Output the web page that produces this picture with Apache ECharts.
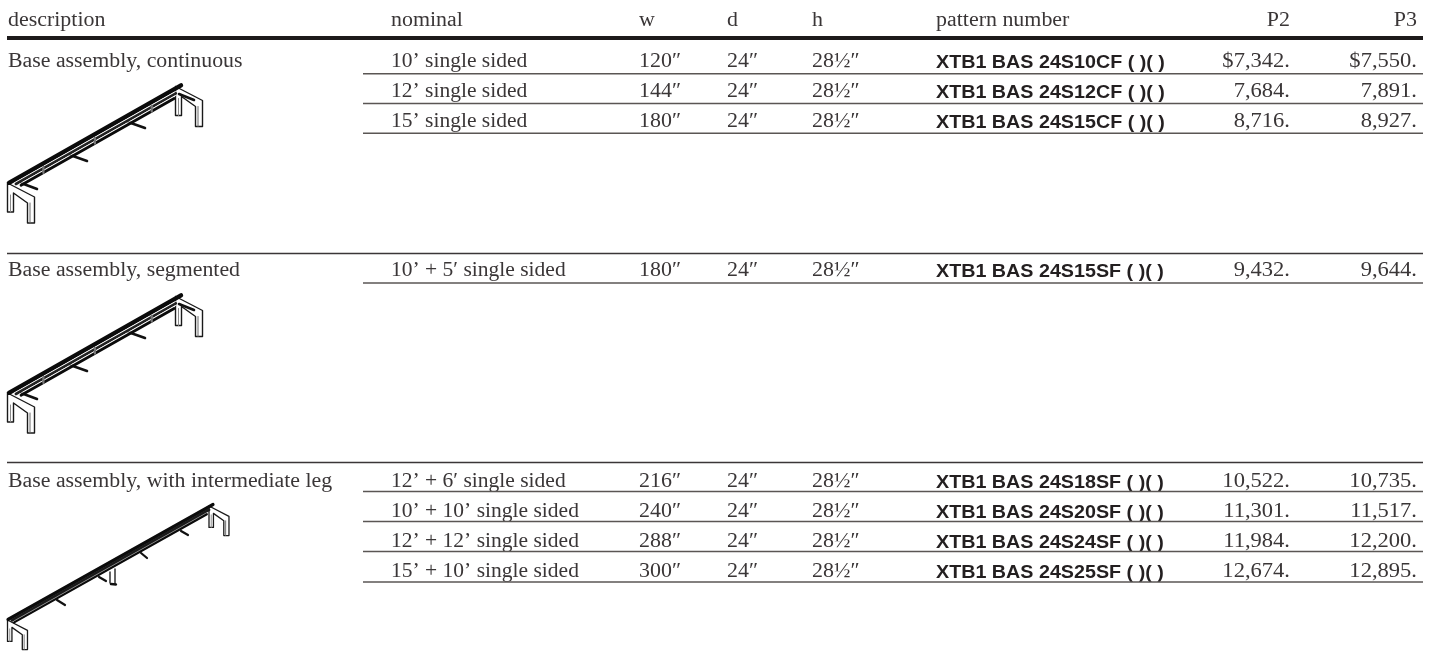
<!DOCTYPE html>
<html>
<head>
<meta charset="utf-8">
<style>html,body{margin:0;padding:0;background:#fff}#c{width:1435px;height:652px}</style>
<script src="https://cdn.jsdelivr.net/npm/echarts@6/dist/echarts.min.js"></script>
</head>
<body>
<div id="c"></div>
<script>
const headers = ['description','nominal','w','d','h','pattern number','P2','P3'];
const sections = ['Base assembly, continuous','Base assembly, segmented','Base assembly, with intermediate leg'];
const nominal = ['10’ single sided','12’ single sided','15’ single sided','10’ + 5′ single sided','12’ + 6′ single sided','10’ + 10’ single sided','12’ + 12’ single sided','15’ + 10’ single sided'];
const widths = ['120″','144″','180″','180″','216″','240″','288″','300″'];
const depths = ['24″','24″','24″','24″','24″','24″','24″','24″'];
const heights = ['28½″','28½″','28½″','28½″','28½″','28½″','28½″','28½″'];
const patterns = ['XTB1 BAS 24S10CF ( )( )','XTB1 BAS 24S12CF ( )( )','XTB1 BAS 24S15CF ( )( )','XTB1 BAS 24S15SF ( )( )','XTB1 BAS 24S18SF ( )( )','XTB1 BAS 24S20SF ( )( )','XTB1 BAS 24S24SF ( )( )','XTB1 BAS 24S25SF ( )( )'];
const priceP2 = ['$7,342.','7,684.','8,716.','9,432.','10,522.','11,301.','11,984.','12,674.'];
const priceP3 = ['$7,550.','7,891.','8,927.','9,644.','10,735.','11,517.','12,200.','12,895.'];

/* layout */
const INK='#3a3637', RULE='#5a5654', DARK='#1d1a1b';
const colX=[8,391,639,727,812,936,1290,1417];
const rowBase=[67,97,127,276,487,517,547,577];
const rowRule=[73.8,103.6,133.2,283,491.5,521.5,551.5,582];
const secTop=[null,253.5,462.5];
const secBase=[67,276,487];
const RIGHT=1423, ROWLEFT=363;
const SERIF='"Liberation Serif",serif', SANS='"Liberation Sans",sans-serif';
const dy=5;

function serif(s,x,y,align,sx){
  return {type:'text',x:x,y:y,scaleX:sx||1.065,silent:true,
    style:{text:s,x:0,y:0,fill:INK,font:'20.5px '+SERIF,align:align||'left',verticalAlign:'bottom'}};
}
function bold(s,x,y){
  return {type:'text',x:x,y:y,scaleX:1.095,silent:true,
    style:{text:s,x:0,y:0,fill:'#231f20',font:'bold 18px '+SANS,align:'left',verticalAlign:'bottom'}};
}
function rule(x1,y,x2,w,c){
  return {type:'line',silent:true,shape:{x1:x1,y1:y,x2:x2,y2:y},style:{stroke:c||RULE,lineWidth:w||1}};
}

function renderRow(params,api){
  const i=api.value(0), y=rowBase[i]+dy;
  return {type:'group',children:[
    serif(nominal[i],colX[1],y,'left',1.05),
    serif(widths[i],colX[2],y,'left',1.07),
    serif(depths[i],colX[3],y,'left',1.07),
    serif(heights[i],colX[4],y,'left',1.07),
    bold(patterns[i],colX[5],y),
    serif(priceP2[i],colX[6],y,'right',1.1),
    serif(priceP3[i],colX[7],y,'right',1.1),
    rule(ROWLEFT,rowRule[i],RIGHT,1.5)
  ]};
}

/* isometric base drawing */
function line(pts,w,c){
  return {type:'polyline',silent:true,shape:{points:pts},style:{stroke:c||'#111',lineWidth:w,fill:null,lineCap:'round',lineJoin:'round'}};
}
function frame(ox,oy,s,lw){
  const p=(x,y)=>[ox+x*s,oy+y*s];
  return [
    {type:'polygon',silent:true,shape:{points:[p(0,0),p(27,14),p(27,40),p(20,40),p(20,20),p(6,10),p(6,29),p(0,29)]},style:{fill:'#fff',stroke:null}},
    line([p(0,0),p(27,14),p(27,40),p(20,40),p(20,20),p(6,10),p(6,29),p(0,29),p(0,0)],lw,'#1a1a1a'),
    line([p(22.5,20),p(22.5,40)],lw*0.7,'#666'),
    line([p(3,12),p(3,29)],lw*0.7,'#888')
  ];
}
function drawing(o){
  const [x0,y0]=o.L,[x1,y1]=o.R, dx=x1-x0, dv=y1-y0;
  const at=(t,ay)=>[x0+dx*t,y0+dv*t+ay];
  const out=[...frame(o.LF[0],o.LF[1],o.s,o.fw),...frame(o.RF[0],o.RF[1],o.s,o.fw)];
  if(o.mid) out.push(...o.mid.map(m=>line(m[0],m[1],m[2])));
  o.arms.forEach(a=>out.push(line(a,o.armW)));
  o.stripes.forEach(s=>out.push(line([at(s[3],s[0]),at(s[4],s[0])],s[1],s[2])));
  if(o.posts) o.posts.forEach(t=>out.push(line([at(t,6),at(t,12)],2.2,'#777')));
  return out;
}
const topStripes=[[2.3,4.4,'#0b0b0b',0,1],[5.6,0.9,'#fff',0.03,0.97],[7.4,2.6,'#222',0.04,0.97],[9.5,0.9,'#fff',0.06,0.97],[11.6,2.8,'#0b0b0b',0.07,0.96]];
const sketchA={L:[9,180.5],R:[181,83],LF:[7.5,183],RF:[175.5,86.5],s:1,fw:1.4,armW:2.6,stripes:topStripes,
  arms:[[[21,183],[37,189]],[[70,155],[87,161]],[[128,122],[145,128]],[[179,94],[194,100]]],posts:[0.2,0.5,0.83]};
const shiftY=(pts,v)=>pts.map(p=>[p[0],p[1]+v]);
const sketchB={...sketchA,L:[9,390.5],R:[181,293],LF:[7.5,393],RF:[175.5,296.5],arms:sketchA.arms.map(a=>shiftY(a,210))};
const sketchC={L:[8,618],R:[213,503],LF:[7.5,620],RF:[209,506],s:0.74,fw:1.3,armW:2.2,
  stripes:[[1.5,3.2,'#0b0b0b',0,1],[4.5,3,'#1a1a1a',0.02,0.98],[6.2,0.6,'#888',0.03,0.97],[7.8,2.2,'#0b0b0b',0.03,0.97]],
  arms:[[[57,600],[65,605]],[[99,577],[106,581]],[[141,553],[147,558]],[[181,531],[188,535]]],
  mid:[[[[110,572],[110,583]],1.4,'#222'],[[[115,569],[115,584]],1.4,'#222'],[[[111,584],[116,584.5]],2.4,'#111']]};
const sketches=[sketchA,sketchB,sketchC];

const headerEls=[
  ...headers.map((h,i)=>serif(h,colX[i],26+dy,i>=6?'right':'left',1.07)),
  rule(7,38,RIGHT,4,DARK)
];
const sectionEls=sections.flatMap((s,i)=>{
  const a=[serif(s,colX[0],secBase[i]+dy)];
  if(secTop[i]!==null) a.push(rule(7,secTop[i],RIGHT,1.5,'#3a3637'));
  return a;
});
const sketchEls=sketches.flatMap(drawing);

const chart=echarts.init(document.getElementById('c'),null,{renderer:'canvas'});
chart.setOption({
  animation:false,
  backgroundColor:'#fff',
  graphic:{elements:[...headerEls,...sectionEls,...sketchEls]},
  series:[{type:'custom',coordinateSystem:'none',renderItem:renderRow,data:nominal.map((_,i)=>[i]),silent:true}]
});
</script>
</body>
</html>
